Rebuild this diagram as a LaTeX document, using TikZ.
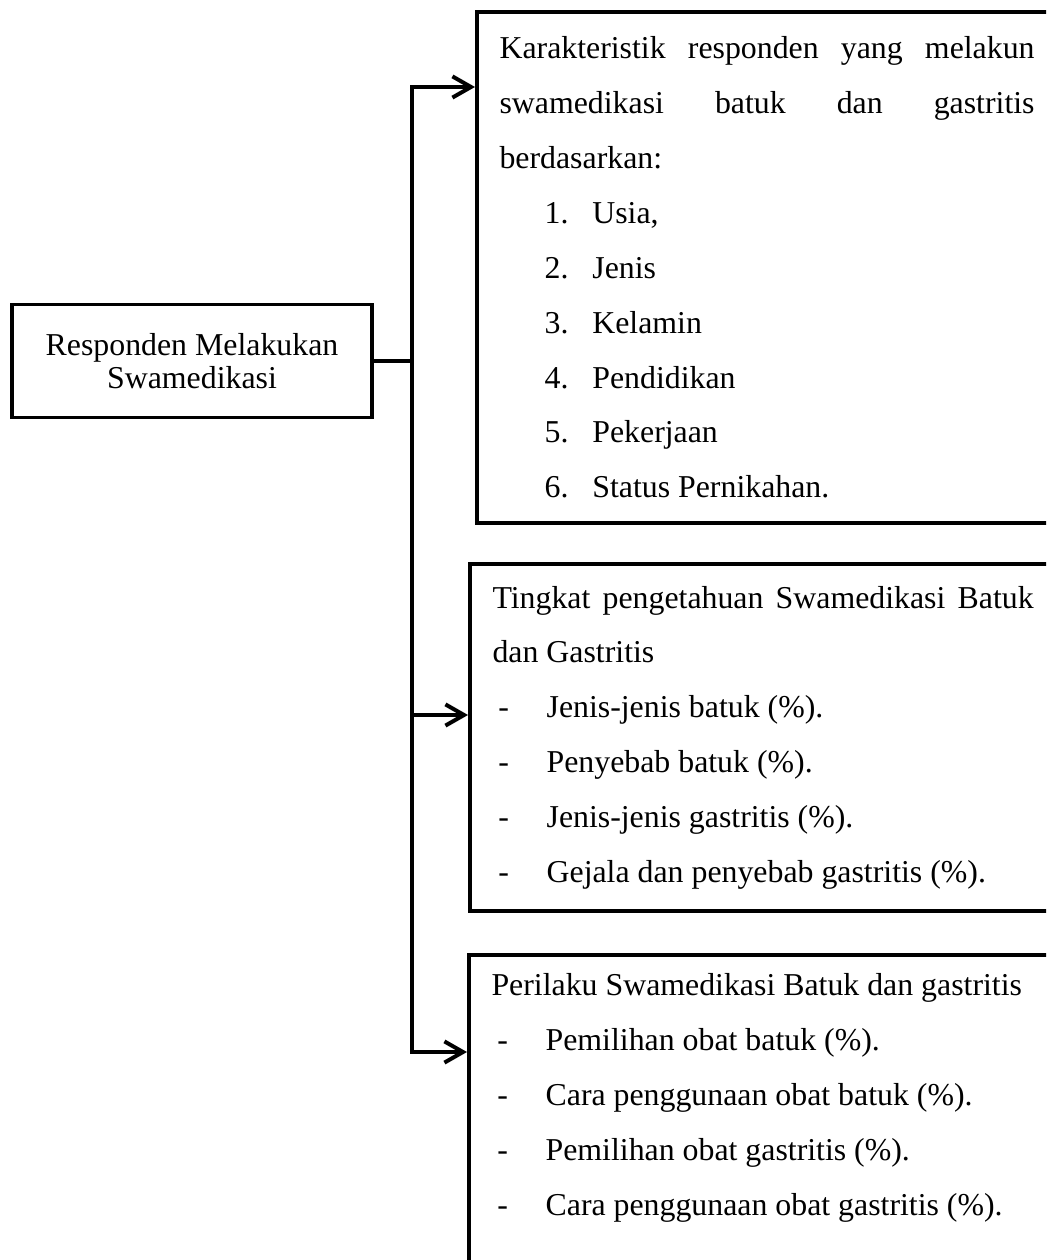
\documentclass[tikz,border=0pt]{standalone}
\usepackage{fontspec}
\setmainfont{Liberation Serif}
\usetikzlibrary{arrows.meta}
\hyphenpenalty=10000
\tolerance=9999
\setlength{\parindent}{0pt}
\newcommand{\butirangka}[2]{\hspace*{17pt}\makebox[18pt][l]{#1}#2}
\newcommand{\butirstrip}[1]{\hspace*{2.2pt}\makebox[18.2pt][l]{-}#1}

\begin{document}
\begin{tikzpicture}[x=0.377pt, y=-0.377pt, line width=1.5pt,
    >={Straight Barb[length=7pt,width=8pt]},
    kotak/.style={draw, anchor=north west, align=justify, inner xsep=8.5pt,
      inner ysep=0pt, font=\fontsize{12}{20.7}\selectfont}]
  \useasboundingbox (0,0) rectangle (1046,1260);
  \clip (0,0) rectangle (1046,1260);
  \node[draw, align=center, minimum width=135.7pt, minimum height=42.6pt,
    font=\fontsize{12}{12.5}\selectfont] (resp) at (192,361)
    {Responden Melakukan\\Swamedikasi};
  \node[kotak, text width=201.7pt, minimum height=192.6pt] (karak) at (475,10)
    {Karakteristik responden yang melakun swamedikasi batuk dan gastritis\linebreak
     berdasarkan:\par
     \butirangka{1.}{Usia,}\par
     \butirangka{2.}{Jenis}\par
     \butirangka{3.}{Kelamin}\par
     \butirangka{4.}{Pendidikan}\par
     \butirangka{5.}{Pekerjaan}\par
     \butirangka{6.}{Status Pernikahan.}};
  \node[kotak, text width=204pt, minimum height=131pt] (tahu) at (468,562)
    {Tingkat pengetahuan Swamedikasi Batuk dan Gastritis\par
     \butirstrip{Jenis-jenis batuk (\%).}\par
     \butirstrip{Penyebab batuk (\%).}\par
     \butirstrip{Jenis-jenis gastritis (\%).}\par
     \butirstrip{Gejala dan penyebab gastritis (\%).}};
  \node[kotak, text width=204pt, minimum height=132pt] (laku) at (467,953)
    {Perilaku Swamedikasi Batuk dan gastritis\par
     \butirstrip{Pemilihan obat batuk (\%).}\par
     \butirstrip{Cara penggunaan obat batuk (\%).}\par
     \butirstrip{Pemilihan obat gastritis (\%).}\par
     \butirstrip{Cara penggunaan obat gastritis (\%).}\par
     \strut};
  \coordinate (atas) at (412,87);
  \coordinate (cabang) at (412,361);
  \coordinate (tengah) at (412,715);
  \coordinate (bawah) at (412,1052);
  \draw (resp.east) -- (cabang);
  \draw[<->] (atas -| karak.west) -- (atas) -- (bawah) -- (bawah -| laku.west);
  \draw[->] (tengah) -- (tengah -| tahu.west);
\end{tikzpicture}
\end{document}
